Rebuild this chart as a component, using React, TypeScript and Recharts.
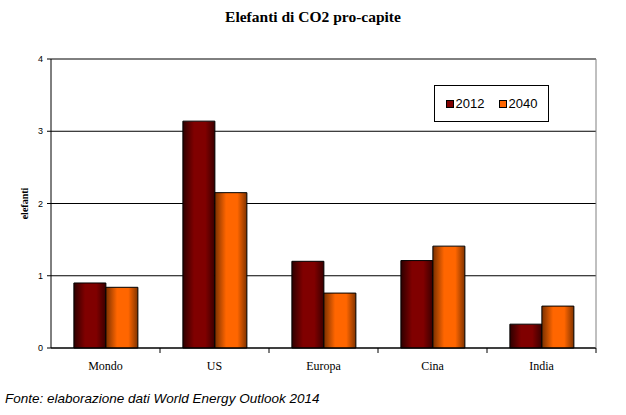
import React from 'react';
import {BarChart, Bar, XAxis, YAxis, CartesianGrid, Legend, ReferenceLine} from 'recharts';

const CATEGORIES = ['Mondo', 'US', 'Europa', 'Cina', 'India'];
const VALUES_2012 = [0.9, 3.14, 1.2, 1.21, 0.33];
const VALUES_2040 = [0.84, 2.15, 0.76, 1.41, 0.58];
const Y_TICKS = [0, 1, 2, 3, 4];

const data = CATEGORIES.map((name, i) => ({
  name,
  y2012: VALUES_2012[i],
  y2040: VALUES_2040[i],
}));

const TICK_SIZE = 5;
const TICK_MARGIN = 8;

// Excel-style category axis: tick marks sit between categories, not at centres
function CategoryTick(props: any) {
  const {x, y, payload, index, visibleTicksCount} = props;
  const half = payload.offset ?? 0;
  const axisY = y - TICK_SIZE - TICK_MARGIN;
  return (
    <g>
      {index > 0 && (
        <line x1={x - half} x2={x - half} y1={axisY} y2={axisY + TICK_SIZE} stroke="#000" />
      )}
      {index === visibleTicksCount - 1 && (
        <line x1={x + half} x2={x + half} y1={axisY} y2={axisY + TICK_SIZE} stroke="#000" />
      )}
      <text
        x={x}
        y={y}
        dy="0.71em"
        textAnchor="middle"
        fontFamily="'Liberation Serif', serif"
        fontSize={12}
        fill="#000"
      >
        {payload.value}
      </text>
    </g>
  );
}

function LegendBox({payload}: any) {
  const swatch: Record<string, string> = {y2012: '#800000', y2040: '#ff6600'};
  return (
    <div
      style={{
        border: '1px solid #000',
        background: '#fff',
        width: 113,
        height: 35,
        display: 'flex',
        alignItems: 'center',
        justifyContent: 'center',
        gap: 14,
        fontFamily: "'Liberation Sans', Arial, sans-serif",
        fontSize: 13,
      }}
    >
      {(payload || []).map((p: any) => (
        <span key={p.dataKey} style={{display: 'flex', alignItems: 'center'}}>
          <span
            style={{
              display: 'inline-block',
              width: 6,
              height: 6,
              border: '1px solid #000',
              background: swatch[p.dataKey],
              marginRight: 2,
            }}
          />
          {p.value}
        </span>
      ))}
    </div>
  );
}

export default function App() {
  return (
    <div style={{position: 'relative', width: 626, height: 415, background: '#fff'}}>
      <style>{'body{margin:0}'}</style>
      <div
        style={{
          position: 'absolute',
          top: 8,
          left: 0,
          width: 626,
          textAlign: 'center',
          fontFamily: "'Liberation Serif', serif",
          fontWeight: 'bold',
          fontSize: 15.5,
        }}
      >
        Elefanti di CO2 pro-capite
      </div>
      <BarChart
        width={626}
        height={382}
        data={data}
        margin={{top: 59, right: 29, bottom: 4, left: 0}}
        barCategoryGap="21%"
        barGap={0}
      >
        <defs>
          <linearGradient id="g2012" x1="0" y1="0" x2="1" y2="0">
            <stop offset="0" stopColor="#2e0000" />
            <stop offset="0.35" stopColor="#800000" />
            <stop offset="0.7" stopColor="#800000" />
            <stop offset="1" stopColor="#3a0000" />
          </linearGradient>
          <linearGradient id="g2040" x1="0" y1="0" x2="1" y2="0">
            <stop offset="0" stopColor="#7a3000" />
            <stop offset="0.35" stopColor="#ff6600" />
            <stop offset="0.7" stopColor="#ff6600" />
            <stop offset="1" stopColor="#803300" />
          </linearGradient>
        </defs>
        <CartesianGrid vertical={false} stroke="#000" />
        <ReferenceLine y={4} stroke="#808080" />
        <XAxis
          dataKey="name"
          axisLine={{stroke: '#000'}}
          tickLine={false}
          tickSize={TICK_SIZE}
          tickMargin={TICK_MARGIN}
          height={30}
          interval={0}
          tick={<CategoryTick />}
        />
        <YAxis
          domain={[0, 4]}
          ticks={Y_TICKS}
          width={51}
          axisLine={{stroke: '#000'}}
          tickLine={{stroke: '#000'}}
          tickSize={4}
          tickMargin={4}
          tick={{fontFamily: "'Liberation Sans', Arial, sans-serif", fontSize: 9, fill: '#000'}}
          label={{
            value: 'elefanti',
            angle: -90,
            position: 'center',
            dx: -1,
            style: {fontFamily: "'Liberation Serif', serif", fontWeight: 'bold', fontSize: 10, fill: '#000'},
          }}
        />
        <YAxis
          yAxisId="frame"
          orientation="right"
          width={1}
          tick={false}
          tickLine={false}
          axisLine={{stroke: '#808080'}}
        />
        <Legend
          layout="horizontal"
          verticalAlign="middle"
          align="center"
          content={<LegendBox />}
          wrapperStyle={{position: 'absolute', top: 85, left: 434, width: 115, height: 37}}
        />
        <Bar dataKey="y2012" name="2012" fill="url(#g2012)" stroke="#000" isAnimationActive={false} />
        <Bar dataKey="y2040" name="2040" fill="url(#g2040)" stroke="#000" isAnimationActive={false} />
      </BarChart>
      <div
        style={{
          position: 'absolute',
          top: 391,
          left: 5,
          fontFamily: "'Liberation Sans', Arial, sans-serif",
          fontStyle: 'italic',
          fontSize: 13.5,
          whiteSpace: 'nowrap',
        }}
      >
        Fonte: elaborazione dati World Energy Outlook 2014
      </div>
    </div>
  );
}
